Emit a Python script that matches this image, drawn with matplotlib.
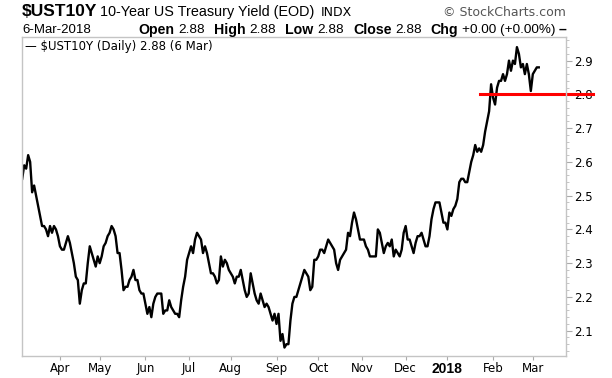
import matplotlib
matplotlib.use('Agg')
import matplotlib.pyplot as plt
import numpy as np
import pandas as pd
from matplotlib.ticker import FixedLocator, MultipleLocator

# $UST10Y daily closes, 7-Mar-2017 .. 6-Mar-2018, one list per month (business days)
mar17 = [2.55, 2.59, 2.58, 2.62, 2.60, 2.51, 2.53, 2.50, 2.47, 2.44, 2.41, 2.41, 2.40, 2.38, 2.41, 2.39, 2.41, 2.40, 2.38]
apr17 = [2.35, 2.34, 2.34, 2.36, 2.38, 2.36, 2.33, 2.30, 2.26, 2.25, 2.18, 2.22, 2.24, 2.24, 2.30, 2.35, 2.33, 2.31, 2.29, 2.32]
may17 = [2.30, 2.32, 2.35, 2.36, 2.38, 2.39, 2.41, 2.40, 2.38, 2.33, 2.33, 2.28, 2.22, 2.23, 2.23, 2.25, 2.26, 2.28, 2.25, 2.25, 2.22, 2.21, 2.21]
jun17 = [2.18, 2.15, 2.17, 2.14, 2.18, 2.20, 2.21, 2.21, 2.21, 2.15, 2.16, 2.16, 2.19, 2.17, 2.16, 2.15, 2.15, 2.14, 2.19, 2.23, 2.26, 2.31]
jul17 = [2.33, 2.35, 2.33, 2.37, 2.39, 2.38, 2.37, 2.33, 2.35, 2.33, 2.30, 2.27, 2.27, 2.26, 2.24, 2.25, 2.32, 2.29, 2.31, 2.30, 2.28]
aug17 = [2.27, 2.26, 2.24, 2.26, 2.26, 2.28, 2.25, 2.22, 2.20, 2.21, 2.27, 2.24, 2.21, 2.19, 2.18, 2.21, 2.19, 2.17, 2.18, 2.17, 2.15, 2.13, 2.15]
sep17 = [2.12, 2.15, 2.07, 2.09, 2.05, 2.06, 2.06, 2.13, 2.18, 2.20, 2.20, 2.22, 2.24, 2.26, 2.28, 2.27, 2.26, 2.22, 2.23, 2.31, 2.31]
oct17 = [2.32, 2.34, 2.34, 2.33, 2.35, 2.37, 2.36, 2.35, 2.34, 2.30, 2.28, 2.31, 2.32, 2.33, 2.34, 2.39, 2.38, 2.42, 2.45, 2.43, 2.40, 2.37]
nov17 = [2.37, 2.37, 2.35, 2.34, 2.32, 2.32, 2.32, 2.32, 2.40, 2.39, 2.36, 2.33, 2.35, 2.36, 2.35, 2.37, 2.32, 2.34, 2.33, 2.32, 2.34, 2.39]
dec17 = [2.41, 2.37, 2.37, 2.35, 2.33, 2.36, 2.38, 2.38, 2.39, 2.37, 2.35, 2.35, 2.38, 2.43, 2.46, 2.48, 2.48, 2.48, 2.45, 2.42, 2.42]
jan18 = [2.40, 2.45, 2.44, 2.46, 2.47, 2.49, 2.54, 2.55, 2.55, 2.54, 2.54, 2.57, 2.60, 2.62, 2.65, 2.63, 2.64, 2.63, 2.65, 2.69, 2.72, 2.75, 2.83]
feb18 = [2.79, 2.77, 2.82, 2.84, 2.84, 2.86, 2.84, 2.86, 2.90, 2.87, 2.90, 2.89, 2.94, 2.92, 2.88, 2.89, 2.86, 2.89, 2.86, 2.81]
mar18 = [2.86, 2.87, 2.88, 2.88]

yields = mar17 + apr17 + may17 + jun17 + jul17 + aug17 + sep17 + oct17 + nov17 + dec17 + jan18 + feb18 + mar18
dates = pd.bdate_range('2017-03-07', periods=len(yields))

month_starts = ['2017-04-01', '2017-05-01', '2017-06-01', '2017-07-01', '2017-08-01', '2017-09-01',
                '2017-10-01', '2017-11-01', '2017-12-01', '2018-01-01', '2018-02-01', '2018-03-01']
month_labels = ['Apr', 'May', 'Jun', 'Jul', 'Aug', 'Sep', 'Oct', 'Nov', 'Dec', '2018', 'Feb', 'Mar']
y_ticks = [2.1, 2.2, 2.3, 2.4, 2.5, 2.6, 2.7, 2.8, 2.9]
support_level = 2.80

W, H = 612, 378
fig = plt.figure(figsize=(W / 100, H / 100), dpi=100)
ax = fig.add_axes([22 / W, 22 / H, 544 / W, 319 / H])

x = np.arange(len(yields))
ax.plot(x, yields, color='black', lw=1.7, solid_joinstyle='round')
ax.axhline(support_level, xmin=0.842, xmax=1.05, color='#ff0000', lw=2.2, clip_on=False)

ax.set_xlim(-0.1, 273.7)
ax.set_ylim(2.025, 2.97)

tick_pos = [int(np.searchsorted(dates, pd.Timestamp(m))) for m in month_starts]
ax.xaxis.set_major_locator(FixedLocator(tick_pos))
ax.set_xticklabels(month_labels, fontsize=8.5, family='DejaVu Sans')
for lab in ax.get_xticklabels():
    if lab.get_text() == '2018':
        lab.set_fontweight('bold')
        lab.set_family('Liberation Sans')
        lab.set_fontsize(10)

ax.yaxis.tick_right()
ax.set_yticks(y_ticks)
ax.set_yticklabels([f'{v:.1f}' for v in y_ticks], fontsize=8.5, family='DejaVu Sans')
ax.yaxis.set_minor_locator(MultipleLocator(0.02))
ax.tick_params(axis='y', which='major', length=4, color='#aaaaaa', pad=2)
ax.tick_params(axis='y', which='minor', length=2, color='#bbbbbb')
ax.tick_params(axis='x', which='major', length=3, color='#aaaaaa', pad=1.5)

for sp in ax.spines.values():
    sp.set_color('#c4c4c4')
    sp.set_linewidth(1)

ax.text(0.005, 0.992, '\u2014 $UST10Y (Daily) 2.88 (6 Mar)', transform=ax.transAxes,
        ha='left', va='top', fontsize=8.5, family='DejaVu Sans')


def put_row(y, pieces, x0):
    # left to right, each piece starts after the previous one plus a gap (pixels)
    r = fig.canvas.get_renderer()
    xp = x0
    for s, kw, gap in pieces:
        xp += gap
        t = fig.text(xp / W, 1 - y / H, s, va='center', ha='left', **kw)
        xp = t.get_window_extent(r).x1


def put_row_right(y, pieces, x1):
    # right to left, the last piece ends at x1
    r = fig.canvas.get_renderer()
    xp = x1
    for s, kw, gap in reversed(pieces):
        t = fig.text(xp / W, 1 - y / H, s, va='center', ha='right', **kw)
        xp = t.get_window_extent(r).x0 - gap


arial = dict(family='Liberation Sans')
put_row(12, [('$UST10Y', dict(fontsize=12.5, weight='bold', **arial), 0),
             ('10-Year US Treasury Yield (EOD)', dict(fontsize=10.4, **arial), 3),
             ('INDX', dict(fontsize=9, family='DejaVu Sans'), 6)], 22)
fig.text(566 / W, 1 - 12 / H, '\u00a9 StockCharts.com', ha='right', va='center',
         fontsize=9, family='DejaVu Sans', color='#555555')

fig.text(22 / W, 1 - 30 / H, '6-Mar-2018', ha='left', va='center', fontsize=9.5, **arial)
bold = dict(fontsize=10.2, weight='bold', **arial)
val = dict(fontsize=9.7, **arial)
put_row_right(30, [('Open', bold, 0), ('2.88', val, 4),
                   ('High', bold, 9), ('2.88', val, 4),
                   ('Low', bold, 9), ('2.88', val, 4),
                   ('Close', bold, 9), ('2.88', val, 4),
                   ('Chg', bold, 8), ('+0.00 (+0.00%)', val, 4),
                   ('\u2013', bold, 3)], 566)

fig.savefig('out.png', dpi=100, facecolor='white')
